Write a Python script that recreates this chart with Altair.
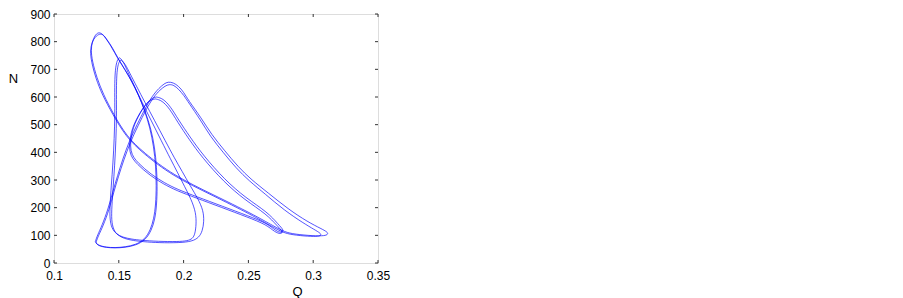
import altair as alt
import pandas as pd

# ---- traced trajectory arcs (Q, N) ----
loop_x_a_q = [0.1319,0.1335,0.137,0.1417,0.1455,0.149,0.153,0.158,0.164,0.1705,0.176,0.181,0.185,0.188,
              0.192,0.196,0.2,0.2034,0.2137,0.2214,0.2317,0.242,0.2523,0.2651,0.2806,0.296,0.3062,0.311,0.3115,0.309,0.3,0.2857,0.278,
              0.27,0.2536,0.2228,0.192,0.1689,0.156,0.1457,0.138,0.133,0.1295,0.1285,0.1295,0.1315,0.134,
              0.137,0.1395,0.1442,0.149,0.1546,0.1596,0.165,0.17,0.174,0.177,0.1785,0.179,0.1785,0.177,0.1745,0.17,0.163,0.155,0.147,0.14,0.135,0.1325,0.1319]
loop_x_a_n = [78,100,135,194,260,315,375,440,500,560,605,632,648,655,
              652,640,618,590,524,465,406,348,301,254,195,148,124,112,104,98,98,104,112,
              132,176,247,317,400,458,540,610,670,730,770,800,822,834,
              830,815,783,740,700,660,610,550,490,420,350,280,210,160,120,85,66,58,55,57,63,70,78]

loop_x_b_q = [0.1325,0.1342,0.1378,0.1425,0.1462,0.1497,0.1538,0.1588,0.1648,0.1712,0.1768,0.1818,0.1858,0.1888,
              0.1925,0.1962,0.2002,0.2038,0.2132,0.2205,0.2305,0.2405,0.2505,0.2628,0.2778,0.2925,0.3012,0.3055,0.3062,0.3045,0.2965,0.2835,0.2768,
              0.2688,0.2525,0.222,0.1912,0.1683,0.1555,0.1452,0.1372,0.1322,0.1288,0.1279,0.1292,0.1318,0.1352,
              0.1382,0.1405,0.1452,0.1498,0.1552,0.1602,0.1655,0.1706,0.1748,0.1778,0.1792,0.1797,0.1792,0.1778,0.1752,0.1706,0.1632,0.1548,0.1468,0.1402,0.1352,0.1328,0.1325]
loop_x_b_n = [76,98,133,192,258,312,372,436,496,556,600,626,640,646,
              643,628,606,580,516,458,400,343,297,250,190,144,120,108,101,96,96,102,110,
              130,174,245,315,398,456,538,608,668,728,768,797,818,829,
              825,810,778,736,696,655,605,546,486,416,346,276,206,157,118,83,64,56,54,56,61,69,76]

loop_b_a_q = [0.1507,0.149,0.1478,0.147,0.1468,0.147,0.1465,0.1455,0.1442,0.1432,0.143,0.1445,0.148,0.153,0.16,0.1674,0.18,0.1957,0.203,0.207,0.2088,0.2098,0.2095,0.206,0.2008,0.195,0.19,0.183,0.175,0.168,0.162,0.157,0.1535,0.1507]
loop_b_a_n = [742,736,715,680,620,540,450,360,280,210,160,125,105,93,86,82,78,77,80,88,105,140,182,229,276,330,375,440,515,580,640,690,728,742]
loop_b_b_q = [0.1518,0.1502,0.149,0.1483,0.1481,0.1483,0.1478,0.1468,0.1456,0.1446,0.1443,0.1458,0.1492,0.1542,0.1612,0.1686,0.1812,0.1968,0.2065,0.2118,0.2145,0.2158,0.2152,0.2112,0.2052,0.1988,0.1932,0.1858,0.1775,0.1702,0.1638,0.1585,0.1548,0.1518]
loop_b_b_n = [734,728,708,672,612,532,442,352,272,203,155,120,100,88,81,77,73,73,78,92,115,150,190,232,278,332,377,442,516,580,638,686,721,734]

loop_d_a_q = [0.179,0.184,0.19,0.1957,0.205,0.215,0.2317,0.248,0.265,0.273,0.2775,0.276,0.271,0.265,0.25,0.23,0.21,0.1957,0.185,0.175,0.165,0.158,0.16,0.165,0.17,0.175,0.179]
loop_d_a_n = [600,595,565,520,455,390,301,235,183,140,118,108,116,142,170,205,240,265,290,320,360,400,480,530,570,595,600]
loop_d_b_q = [0.1782,0.1832,0.1892,0.195,0.2042,0.2142,0.231,0.2472,0.2642,0.2722,0.2768,0.2752,0.2702,0.2642,0.2492,0.2292,0.2092,0.1948,0.1842,0.1742,0.1642,0.1572,0.1592,0.1642,0.1692,0.1742,0.1782]
loop_d_b_n = [593,588,558,512,447,382,293,228,176,134,113,104,112,138,166,201,236,261,286,316,356,396,476,526,565,589,593]

x_ticks = [0.1,0.15,0.2,0.25,0.3,0.35]
y_ticks = [0,100,200,300,400,500,600,700,800,900]

rows = []
for name, qs, ns in [("xa", loop_x_a_q, loop_x_a_n), ("xb", loop_x_b_q, loop_x_b_n),
                     ("ba", loop_b_a_q, loop_b_a_n), ("bb", loop_b_b_q, loop_b_b_n),
                     ("da", loop_d_a_q, loop_d_a_n), ("db", loop_d_b_q, loop_d_b_n)]:
    for i, (q, n) in enumerate(zip(qs, ns)):
        rows.append({"arc": name, "i": i, "Q": q, "N": n})
df = pd.DataFrame(rows)

W, H = 324, 249
xs = alt.Scale(domain=[0.1, 0.35], nice=False, zero=False)
ys = alt.Scale(domain=[0, 900], nice=False)

x_axis = alt.Axis(values=x_ticks, format="~g", ticks=False, domain=False, grid=False,
                  labelFontSize=12, labelFont="Liberation Sans", labelColor="black",
                  labelFlush=False, labelOverlap=False,
                  labelPadding=7, title="Q", titleFont="Liberation Sans", titleFontSize=13,
                  titleFontWeight="normal", titleX=243, titleY=28, titleBaseline="middle")
y_axis = alt.Axis(values=y_ticks, ticks=False, domain=False, grid=False,
                  labelFontSize=12, labelFont="Liberation Sans", labelColor="black",
                  labelFlush=False, labelOverlap=False,
                  labelPadding=4, title="N", titleAngle=0, titleFont="Liberation Sans",
                  titleFontSize=13, titleFontWeight="normal", titleX=-41, titleY=64,
                  titleAlign="center", titleBaseline="middle")

lines = alt.Chart(df).mark_line(color="#0000ff", strokeWidth=0.9, opacity=0.75, interpolate="basis").encode(
    x=alt.X("Q:Q", scale=xs, axis=x_axis),
    y=alt.Y("N:Q", scale=ys, axis=y_axis),
    detail="arc:N",
    order="i:Q",
)

xt = pd.DataFrame({"t": x_ticks})
yt = pd.DataFrame({"t": y_ticks})
tick_col = "#333333"
xb = alt.Chart(xt).mark_rule(color=tick_col, strokeWidth=1).encode(x=alt.X("t:Q", scale=xs, axis=x_axis), y=alt.value(H), y2=alt.value(H - 3))
xtop = alt.Chart(xt).mark_rule(color=tick_col, strokeWidth=1).encode(x=alt.X("t:Q", scale=xs, axis=x_axis), y=alt.value(0), y2=alt.value(3))
yl = alt.Chart(yt).mark_rule(color=tick_col, strokeWidth=1).encode(y=alt.Y("t:Q", scale=ys, axis=y_axis), x=alt.value(0), x2=alt.value(3))
yr = alt.Chart(yt).mark_rule(color=tick_col, strokeWidth=1).encode(y=alt.Y("t:Q", scale=ys, axis=y_axis), x=alt.value(W), x2=alt.value(W - 3))

chart = alt.layer(lines, xb, xtop, yl, yr).properties(
    width=W, height=H,
    autosize=alt.AutoSizeParams(type="none"),
    padding={"left": 46, "top": 6, "right": 22, "bottom": 36},
).configure_view(stroke="#333333", strokeWidth=1).configure(background="white")

chart.save("out.html", embed_options={"renderer": "svg", "actions": False})
